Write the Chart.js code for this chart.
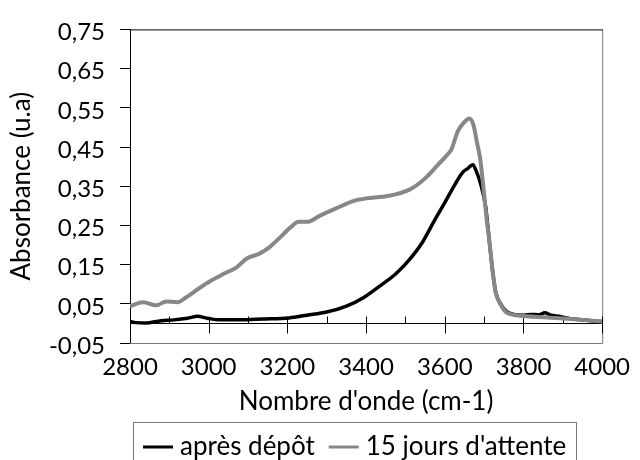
<!DOCTYPE html>
<html>
<head>
<meta charset="utf-8">
<script src="https://cdn.jsdelivr.net/npm/chart.js@4.4.1/dist/chart.umd.min.js"></script>
<style>
  html, body { margin: 0; padding: 0; background: #fff; overflow: hidden; }
  canvas { display: block; }
</style>
</head>
<body>
<canvas id="spectre" width="640" height="460"></canvas>
<script>
// Spectre IR : après dépôt (noir)
const wnApres = [2800, 2815, 2840, 2879, 2912, 2946, 2972, 2996, 3029, 3079, 3137, 3204, 3250, 3300, 3350, 3392, 3433, 3475, 3508, 3542, 3575, 3600, 3625, 3646, 3658, 3671, 3679, 3692, 3704, 3712, 3721, 3729, 3742, 3758, 3800, 3820, 3840, 3854, 3870, 3890, 3920, 3960, 4000];
const absApres = [0.005, 0.002, 0.001, 0.007, 0.009, 0.013, 0.018, 0.013, 0.009, 0.009, 0.011, 0.014, 0.021, 0.029, 0.044, 0.065, 0.094, 0.126, 0.160, 0.205, 0.265, 0.308, 0.353, 0.386, 0.395, 0.405, 0.391, 0.353, 0.297, 0.222, 0.139, 0.081, 0.050, 0.030, 0.021, 0.023, 0.022, 0.027, 0.021, 0.018, 0.012, 0.008, 0.004];

// Spectre IR : 15 jours d'attente (gris)
const wn15j = [2800, 2833, 2867, 2892, 2921, 2942, 2975, 3004, 3037, 3071, 3096, 3129, 3154, 3179, 3208, 3229, 3250, 3283, 3325, 3367, 3400, 3442, 3475, 3517, 3550, 3583, 3608, 3617, 3633, 3650, 3662, 3673, 3682, 3690, 3700, 3707, 3712, 3721, 3729, 3742, 3758, 3800, 3883, 3950, 4000];
const abs15j = [0.044, 0.054, 0.046, 0.056, 0.054, 0.066, 0.089, 0.108, 0.126, 0.143, 0.165, 0.178, 0.194, 0.217, 0.245, 0.259, 0.259, 0.275, 0.294, 0.312, 0.319, 0.323, 0.329, 0.345, 0.370, 0.405, 0.432, 0.444, 0.490, 0.514, 0.523, 0.506, 0.461, 0.420, 0.329, 0.260, 0.222, 0.139, 0.081, 0.048, 0.027, 0.019, 0.014, 0.009, 0.005];

const seriesLabels = ['après dépôt', "15 jours d'attente"];
const xTicks = [2800, 3000, 3200, 3400, 3600, 3800, 4000];
const xMinorTicks = [2900, 3100, 3300, 3500, 3700, 3900];
const yTicks = [-0.05, 0.05, 0.15, 0.25, 0.35, 0.45, 0.55, 0.65, 0.75];

const FONT = 'Lato';
const TICK_SIZE = 24;
const TEXT_SIZE = 26;
const toPoints = (xs, ys) => xs.map((v, i) => ({ x: v, y: ys[i] }));
const frFormat = v => v.toFixed(2).replace('.', ',');

// Cadre de la zone de tracé + axe horizontal passant par 0 avec graduations
const axisFrame = {
  id: 'axisFrame',
  beforeDatasetsDraw(chart) {
    const { ctx, chartArea: a, scales: { x, y } } = chart;
    ctx.save();
    ctx.lineWidth = 1;
    ctx.strokeStyle = '#7a7a7a';
    ctx.beginPath();
    ctx.moveTo(a.left, a.bottom + 0.5);
    ctx.lineTo(a.right + 0.5, a.bottom + 0.5);
    ctx.lineTo(a.right + 0.5, a.top);
    ctx.stroke();
    ctx.strokeStyle = '#000';
    ctx.beginPath();
    ctx.moveTo(a.left, a.top + 0.5);
    ctx.lineTo(a.right + 0.5, a.top + 0.5);
    ctx.stroke();

    const y0 = Math.round(y.getPixelForValue(0)) + 0.5;
    ctx.beginPath();
    ctx.moveTo(a.left, y0);
    ctx.lineTo(a.right, y0);
    xTicks.forEach(v => {
      const px = Math.round(x.getPixelForValue(v)) + 0.5;
      ctx.moveTo(px, y0 - 7);
      ctx.lineTo(px, y0 + 10);
    });
    xMinorTicks.forEach(v => {
      const px = Math.round(x.getPixelForValue(v)) + 0.5;
      ctx.moveTo(px, y0 - 7);
      ctx.lineTo(px, y0);
    });
    ctx.stroke();
    ctx.restore();
  }
};

// Légende encadrée sous le titre de l'axe des abscisses
const boxedLegend = {
  id: 'boxedLegend',
  afterDraw(chart) {
    const ctx = chart.ctx;
    const sample = 30, gap = 7, itemGap = 14, pad = 10;
    const left = 133, top = 422, cy = 447;
    ctx.save();
    ctx.font = `${TEXT_SIZE}px ${FONT}`;
    const items = chart.data.datasets.map(d => ({
      label: d.label, color: d.borderColor, w: ctx.measureText(d.label).width
    }));
    const total = items.reduce((s, it) => s + sample + gap + it.w, 0) + itemGap * (items.length - 1);
    ctx.strokeStyle = '#7a7a7a';
    ctx.lineWidth = 1;
    ctx.strokeRect(left + 0.5, top + 0.5, Math.round(total + 2 * pad), 60);
    let cx = left + pad;
    ctx.textBaseline = 'middle';
    ctx.textAlign = 'left';
    items.forEach(it => {
      ctx.strokeStyle = it.color;
      ctx.lineWidth = 3;
      ctx.beginPath();
      ctx.moveTo(cx, cy);
      ctx.lineTo(cx + sample, cy);
      ctx.stroke();
      cx += sample + gap;
      ctx.fillStyle = '#000';
      ctx.fillText(it.label, cx, cy);
      cx += it.w + itemGap;
    });
    ctx.restore();
  }
};

new Chart(document.getElementById('spectre'), {
  type: 'line',
  data: {
    datasets: [
      {
        label: seriesLabels[0],
        data: toPoints(wnApres, absApres),
        borderColor: '#000000',
        borderWidth: 3.5,
        pointRadius: 0,
        cubicInterpolationMode: 'monotone',
        order: 1
      },
      {
        label: seriesLabels[1],
        data: toPoints(wn15j, abs15j),
        borderColor: '#878787',
        borderWidth: 4,
        pointRadius: 0,
        cubicInterpolationMode: 'monotone',
        order: 0
      }
    ]
  },
  options: {
    responsive: false,
    devicePixelRatio: 1,
    animation: false,
    layout: { padding: { top: 20, right: 30, bottom: 38, left: 0 } },
    plugins: { legend: { display: false }, tooltip: { enabled: false } },
    scales: {
      x: {
        type: 'linear',
        min: 2800,
        max: 4000,
        afterBuildTicks: s => { s.ticks = xTicks.map(v => ({ value: v })); },
        afterFit: s => { s.height = 79; },
        grid: { display: false, drawTicks: false },
        border: { display: false },
        ticks: {
          padding: 10,
          maxRotation: 0,
          autoSkip: false,
          color: '#000',
          font: { family: FONT, size: TICK_SIZE },
          callback: v => String(v)
        },
        title: {
          display: true,
          text: "Nombre d'onde (cm-1)",
          color: '#000',
          font: { family: FONT, size: TEXT_SIZE },
          padding: { top: 0, bottom: 5 }
        }
      },
      y: {
        type: 'linear',
        min: -0.05,
        max: 0.75,
        afterBuildTicks: s => { s.ticks = yTicks.map(v => ({ value: v })); },
        afterFit: s => { s.width = 130; },
        grid: { drawOnChartArea: false, drawTicks: true, tickLength: 10, color: '#000' },
        border: { display: true, color: '#000', width: 1 },
        ticks: {
          padding: 15,
          labelOffset: 3,
          autoSkip: false,
          color: '#000',
          font: { family: FONT, size: TICK_SIZE },
          callback: v => frFormat(v)
        },
        title: {
          display: true,
          text: 'Absorbance (u.a)',
          color: '#000',
          font: { family: FONT, size: TEXT_SIZE },
          padding: { top: 6, bottom: 0 }
        }
      }
    }
  },
  plugins: [axisFrame, boxedLegend]
});
</script>
</body>
</html>
